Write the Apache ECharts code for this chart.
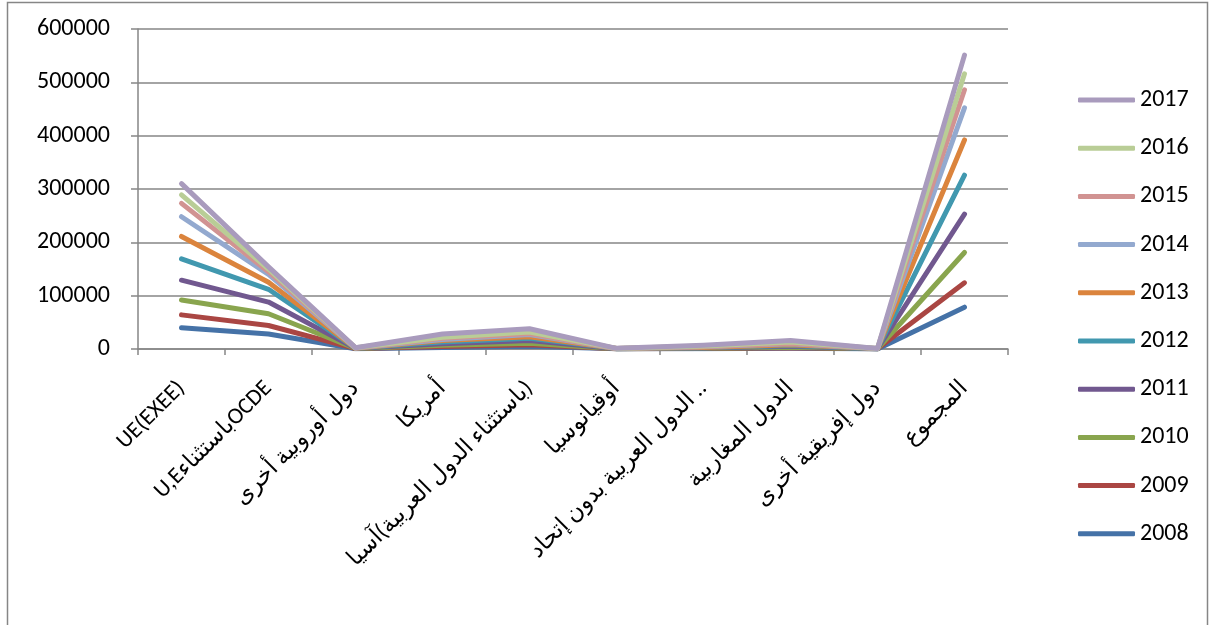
<!DOCTYPE html>
<html>
<head>
<meta charset="utf-8">
<script src="https://cdn.jsdelivr.net/npm/echarts@6/dist/echarts.min.js"></script>
<style>html,body{margin:0;padding:0;background:#fff}#c{width:1211px;height:625px}</style>
</head>
<body>
<div id="c"></div>
<script>
const categories = [
  'UE(EXEE)',
  'U,EباستثناءOCDE',
  'دول أوروبية أخرى',
  'أمريكا',
  '\u200F(باستثناء الدول العربية)آسيا',
  'أوقيانوسيا',
  'الدول العربية بدون إتحاد ..',
  'الدول المغاربية',
  'دول إفريقية أخرى',
  'المجموع'
];
const years = ['2008','2009','2010','2011','2012','2013','2014','2015','2016','2017'];
const v2008 = [40000, 28000, 500, 3000, 5000, 300, 500, 1500, 200, 78500];
const v2009 = [64000, 44000, 800, 4500, 8000, 400, 1000, 2500, 300, 124000];
const v2010 = [92000, 66000, 1000, 7000, 11000, 500, 1500, 3500, 400, 181000];
const v2011 = [129000, 88000, 1200, 10000, 16000, 600, 2000, 5000, 500, 253000];
const v2012 = [169000, 112000, 1400, 13000, 20000, 700, 2500, 6500, 600, 326000];
const v2013 = [211000, 125000, 1600, 16000, 23000, 800, 3000, 8000, 700, 392000];
const v2014 = [248000, 140000, 1800, 18000, 27000, 900, 4000, 10000, 800, 452000];
const v2015 = [273000, 145000, 2000, 20000, 29000, 1000, 4500, 11000, 900, 486000];
const v2016 = [289000, 150000, 2200, 22000, 32000, 1100, 5500, 13000, 1000, 516000];
const v2017 = [310000, 154000, 2500, 28000, 38000, 1200, 7000, 16000, 1100, 551000];
const values = [v2008, v2009, v2010, v2011, v2012, v2013, v2014, v2015, v2016, v2017];
const colors = ['#4572A7','#AA4643','#89A54E','#71588F','#4198AF','#DB843D','#93A9CF','#D19392','#B9CD96','#A99BBD'];
const yTicks = [0, 100000, 200000, 300000, 400000, 500000, 600000];

const font = "Calibri, Carlito, Lato, 'DejaVu Sans', sans-serif";
const chart = echarts.init(document.getElementById('c'), null, {renderer: 'canvas'});
chart.setOption({
  animation: false,
  color: colors,
  graphic: [{
    type: 'rect', z: -1,
    shape: {x: 7.5, y: 2.5, width: 1200, height: 660},
    style: {fill: 'none', stroke: '#868686', lineWidth: 1.5}
  }],
  grid: {left: 138, right: 203, top: 29, height: 320},
  legend: {
    orient: 'vertical', left: 1073, top: 83,
    data: years.slice().reverse(),
    icon: 'roundRect', itemWidth: 57, itemHeight: 5, itemGap: 24.2,
    textStyle: {fontFamily: font, fontSize: 24, color: '#000', lineHeight: 24}
  },
  xAxis: {
    type: 'category', data: categories, boundaryGap: true,
    axisLine: {lineStyle: {color: '#868686', width: 1.5}},
    axisTick: {show: true, length: 6, alignWithLabel: false, lineStyle: {color: '#868686', width: 1.5}},
    axisLabel: {interval: 0, rotate: 45, margin: 36, fontFamily: font, fontSize: 23, color: '#000'}
  },
  yAxis: {
    type: 'value', min: yTicks[0], max: yTicks[yTicks.length - 1], interval: 100000,
    axisLine: {show: true, lineStyle: {color: '#868686', width: 1.5}},
    axisTick: {show: true, length: 7, lineStyle: {color: '#868686', width: 1.5}},
    splitLine: {lineStyle: {color: '#868686', width: 1.5}},
    axisLabel: {margin: 28, fontFamily: font, fontSize: 24, color: '#000', formatter: v => String(v)}
  },
  series: years.map((y, i) => ({
    name: y, type: 'line', data: values[i],
    showSymbol: false, symbol: 'none',
    lineStyle: {width: 5, color: colors[i], cap: 'round', join: 'round'},
    itemStyle: {color: colors[i]}
  }))
});
</script>
</body>
</html>
